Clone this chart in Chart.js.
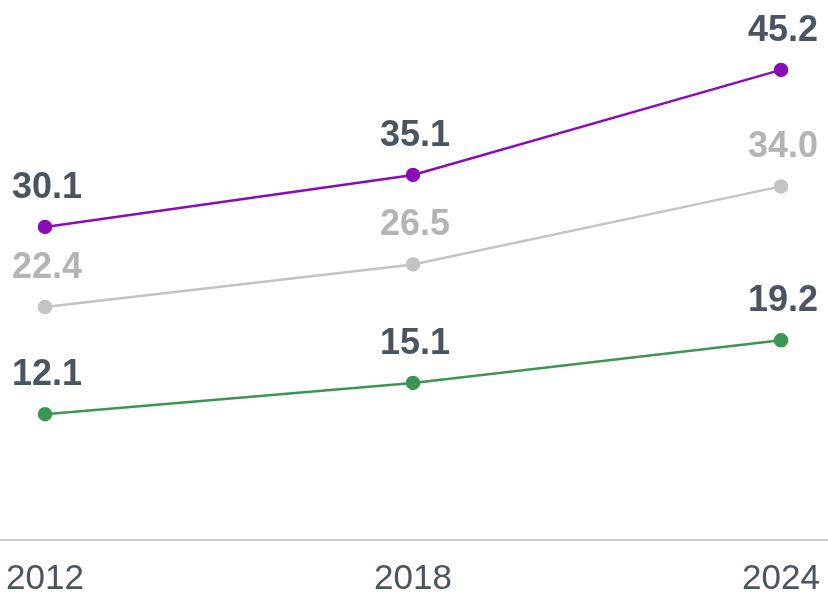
<!DOCTYPE html>
<html lang="en">
<head>
    <meta charset="UTF-8">
    <title>Line chart</title>
    <script src="https://cdn.jsdelivr.net/npm/chart.js@4.4.0/dist/chart.umd.min.js"></script>
    <style>
        body { margin: 0; background: #fff; }
        .chart-container { width: 828px; height: 595px; position: relative; }
    </style>
</head>
<body>
    <div class="chart-container">
        <canvas id="lineChart"></canvas>
    </div>
    <script>
        const years = ['2012', '2018', '2024'];
        const purpleSeries = [30.1, 35.1, 45.2];
        const graySeries = [22.4, 26.5, 34.0];
        const greenSeries = [12.1, 15.1, 19.2];

        const labelColors = ['#4b5560', '#b4b4b4', '#4b5560'];

        // value labels above each point
        const valueLabels = {
            id: 'valueLabels',
            afterDatasetsDraw(chart) {
                const ctx = chart.ctx;
                ctx.save();
                ctx.font = 'bold 36px "Liberation Sans", Arial, sans-serif';
                ctx.textAlign = 'center';
                ctx.textBaseline = 'bottom';
                chart.data.datasets.forEach((ds, i) => {
                    const meta = chart.getDatasetMeta(i);
                    ctx.fillStyle = labelColors[i];
                    meta.data.forEach((pt, j) => {
                        const txt = ds.data[j].toFixed(1);
                        const w = ctx.measureText(txt).width;
                        let x = pt.x + 2;
                        if (x + w / 2 > chart.width - 6) x = chart.width - 6 - w / 2;
                        ctx.fillText(txt, x, pt.y - 21);
                    });
                });
                ctx.restore();
            }
        };

        // baseline across the full width
        const baseline = {
            id: 'baseline',
            beforeDatasetsDraw(chart) {
                const ctx = chart.ctx;
                const y = chart.scales.y.getPixelForValue(0);
                ctx.save();
                ctx.strokeStyle = '#cccccc';
                ctx.lineWidth = 2;
                ctx.beginPath();
                ctx.moveTo(0, y);
                ctx.lineTo(chart.width, y);
                ctx.stroke();
                ctx.restore();
            }
        };

        new Chart(document.getElementById('lineChart'), {
            type: 'line',
            data: {
                labels: years,
                datasets: [{
                    data: purpleSeries,
                    borderColor: '#8a0bb8',
                    backgroundColor: '#8a0bb8',
                    borderWidth: 2.5,
                    pointRadius: 6,
                    tension: 0
                }, {
                    data: graySeries,
                    borderColor: '#c3c3c3',
                    backgroundColor: '#c3c3c3',
                    borderWidth: 2.5,
                    pointRadius: 6,
                    tension: 0
                }, {
                    data: greenSeries,
                    borderColor: '#3a9651',
                    backgroundColor: '#3a9651',
                    borderWidth: 2.5,
                    pointRadius: 6,
                    tension: 0
                }]
            },
            options: {
                responsive: true,
                maintainAspectRatio: false,
                animation: false,
                layout: { padding: { top: 20, left: 45, right: 47, bottom: 0 } },
                plugins: {
                    legend: { display: false },
                    tooltip: { enabled: false }
                },
                scales: {
                    x: {
                        offset: false,
                        grid: { display: false, drawTicks: false },
                        border: { display: false },
                        afterFit(scale) {
                            scale.paddingLeft = 0;
                            scale.paddingRight = 0;
                            scale.height = 55;
                        },
                        ticks: {
                            color: '#4b5560',
                            padding: 18,
                            maxRotation: 0,
                            autoSkip: false,
                            font: { family: '"Liberation Sans", Arial, sans-serif', size: 35 }
                        }
                    },
                    y: {
                        display: false,
                        min: 0,
                        max: 50
                    }
                }
            },
            plugins: [baseline, valueLabels]
        });
    </script>
</body>
</html>
